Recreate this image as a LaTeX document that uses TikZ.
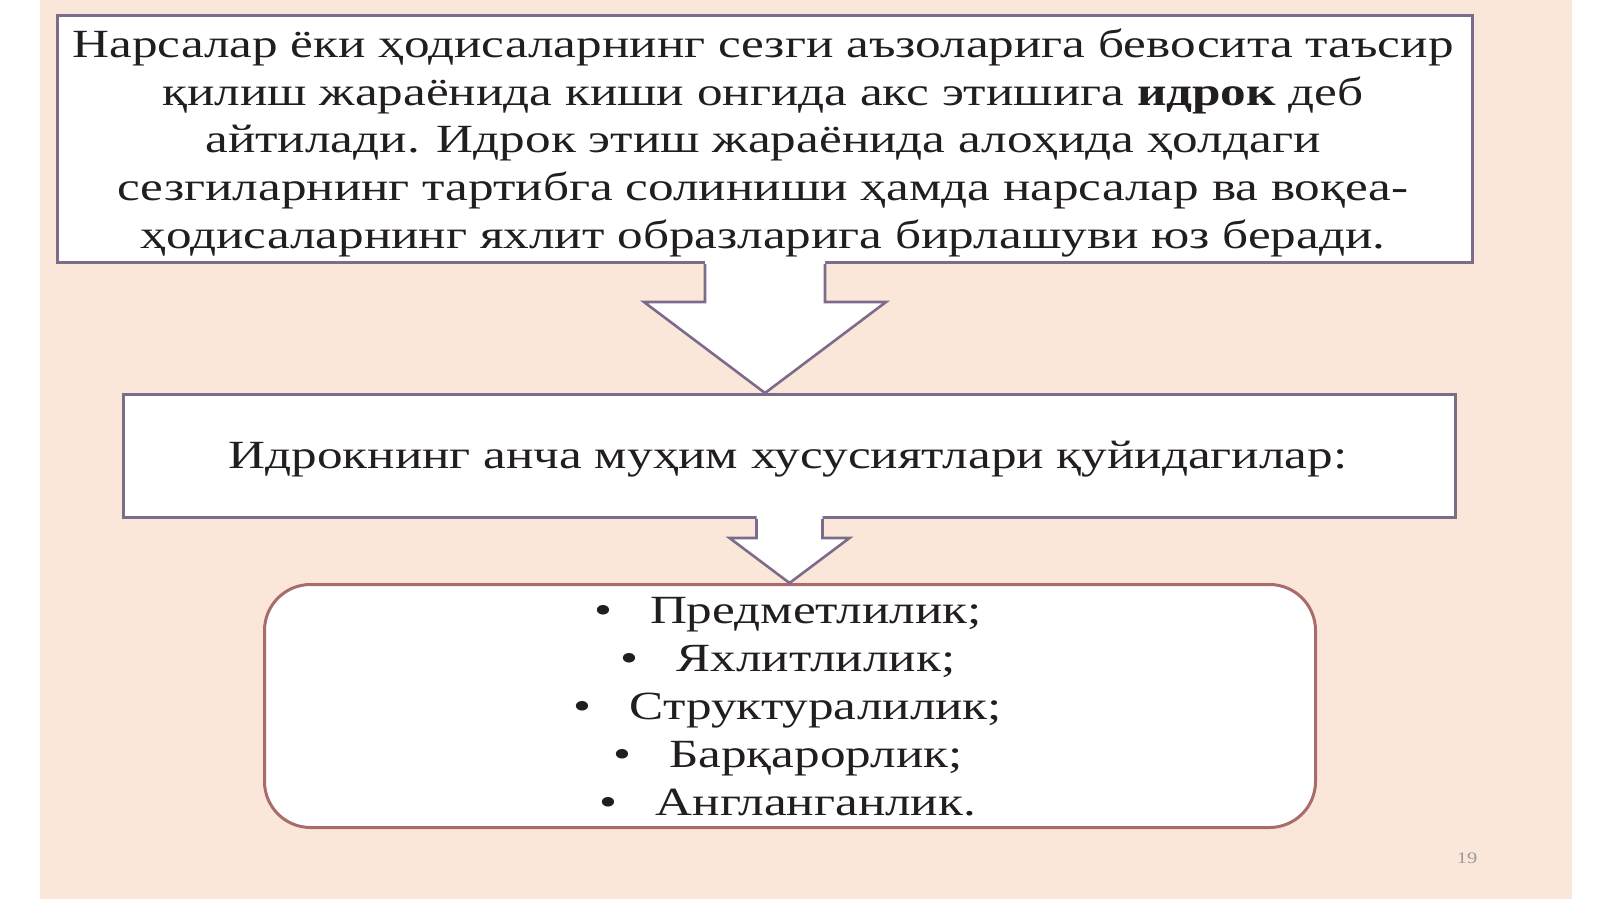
\documentclass[tikz,border=0pt]{standalone}
\usepackage{fontspec}
\setmainfont[FakeStretch=1.28]{Liberation Serif}
\usetikzlibrary{calc}
\definecolor{peach}{RGB}{251,231,218}
\definecolor{boxline}{RGB}{122,108,138}
\definecolor{roseline}{RGB}{168,108,108}
\definecolor{textc}{RGB}{34,30,30}
\tikzset{
  sqbox/.style={draw=boxline, line width=3pt, fill=white, inner sep=0pt, anchor=north west},
  rbox/.style={draw=roseline, line width=3pt, fill=white, inner sep=0pt, anchor=north west, rounded corners=46pt},
  bigarrow/.style={draw=boxline, line width=2.6pt, line join=miter},
  txt/.style={font=\fontsize{40}{48}\selectfont, text=textc, inner sep=0pt, anchor=base},
}
\begin{document}
\begin{tikzpicture}[x=1pt,y=-1pt]
\useasboundingbox (0,0) rectangle (1600,899);
\fill[white] (0,0) rectangle (1600,899);
\fill[peach] (40,0) rectangle (1572,899);

% boxes
\node[sqbox, minimum width=1415pt, minimum height=247pt] (top) at (56,14) {};
\node[sqbox, minimum width=1332pt, minimum height=123pt] (mid) at (122,393) {};
\node[rbox, minimum width=1051pt, minimum height=243pt] (list) at (263,583) {};

% arrow 1
\coordinate (a1tip) at (top.south |- mid.north);
\fill[white] ($(top.south)+(-60,-3)$) -- ($(top.south)+(-60,38)$) -- ($(top.south)+(-121,38)$)
  -- (a1tip) -- ($(top.south)+(121,38)$) -- ($(top.south)+(60,38)$) -- ($(top.south)+(60,-3)$) -- cycle;
\draw[bigarrow] ($(top.south)+(-60,0)$) -- ($(top.south)+(-60,38)$) -- ($(top.south)+(-121,38)$)
  -- (a1tip) -- ($(top.south)+(121,38)$) -- ($(top.south)+(60,38)$) -- ($(top.south)+(60,0)$);

% arrow 2
\coordinate (a2tip) at (mid.south |- list.north);
\fill[white] ($(mid.south)+(-33,-3)$) -- ($(mid.south)+(-33,19)$) -- ($(mid.south)+(-60,19)$)
  -- (a2tip) -- ($(mid.south)+(60,19)$) -- ($(mid.south)+(33,19)$) -- ($(mid.south)+(33,-3)$) -- cycle;
\draw[bigarrow] ($(mid.south)+(-33,0)$) -- ($(mid.south)+(-33,19)$) -- ($(mid.south)+(-60,19)$)
  -- (a2tip) -- ($(mid.south)+(60,19)$) -- ($(mid.south)+(33,19)$) -- ($(mid.south)+(33,0)$);

% top text
\node[txt] (t1) at (763,57) {Нарсалар ёки ҳодисаларнинг сезги аъзоларига бевосита таъсир};
\node[txt] (t2) at (763,105) {қилиш жараёнида киши онгида акс этишига \textbf{идрок} деб};
\node[txt] (t3) at (763,152) {айтилади. Идрок этиш жараёнида алоҳида ҳолдаги};
\node[txt] (t4) at (763,200) {сезгиларнинг тартибга солиниши ҳамда нарсалар ва воқеа-};
\node[txt] (t5) at (763,248) {ҳодисаларнинг яхлит образларига бирлашуви юз беради.};

% middle text
\node[txt] (m1) at (788,468) {Идрокнинг анча муҳим хусусиятлари қуйидагилар:};

% list
\node[txt] (b1) at (788,623) {\textbullet\hspace{38pt}Предметлилик;};
\node[txt] (b2) at (788,671) {\textbullet\hspace{38pt}Яхлитлилик;};
\node[txt] (b3) at (788,719) {\textbullet\hspace{38pt}Структуралилик;};
\node[txt] (b4) at (788,767) {\textbullet\hspace{38pt}Барқарорлик;};
\node[txt] (b5) at (788,815) {\textbullet\hspace{38pt}Англанганлик.};

% page number
\node[font=\fontsize{16}{16}\selectfont, text=gray!80, inner sep=0pt] (pg) at (1467,858) {19};
\end{tikzpicture}
\end{document}
